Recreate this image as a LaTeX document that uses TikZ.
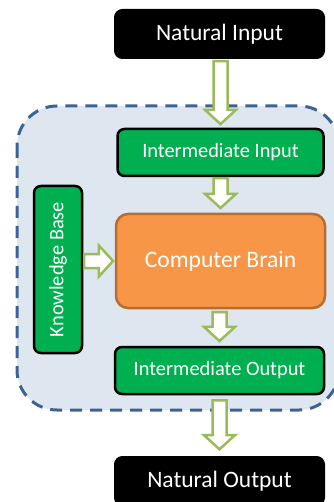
\documentclass[tikz,border=0pt]{standalone}
\usepackage{fontspec}
\setmainfont{Carlito}
\usetikzlibrary{shapes.arrows}

\definecolor{boxgreen}{HTML}{00B050}
\definecolor{brainfill}{HTML}{F79646}
\definecolor{brainline}{HTML}{B66D31}
\definecolor{arrowgreen}{HTML}{9BBB59}
\definecolor{zonefill}{HTML}{DEE6F0}
\definecolor{zoneline}{HTML}{3D6396}

\tikzset{
  natbox/.style={fill=black, draw=black, line width=1pt, rounded corners=8pt, text=white,
    minimum width=210pt, minimum height=49pt, font=\fontsize{23.5}{28}\selectfont},
  midbox/.style={fill=boxgreen, draw=black, line width=2.5pt, rounded corners=7pt, text=white,
    font=\fontsize{20.4}{24}\selectfont},
  brainbox/.style={fill=brainfill, draw=brainline, line width=2.5pt, rounded corners=12pt, text=white,
    minimum width=209pt, minimum height=94pt, font=\fontsize{23.6}{28}\selectfont},
  zone/.style={fill=zonefill, draw=zoneline, line width=3pt, rounded corners=40pt,
    dash pattern=on 12pt off 8pt},
  bigarrow/.style={single arrow, draw=arrowgreen, fill=white, line width=2.5pt,
    inner sep=0pt, inner ysep=5.75pt, single arrow head extend=8.5pt, single arrow tip angle=95}
}

\begin{document}
\begin{tikzpicture}[x=1pt, y=-1pt]
    \useasboundingbox (0,0) rectangle (333,502);
    % shaded zone
    \draw[zone] (17,106) rectangle (339,410);
    % boxes
    \node[natbox] (natin) at (219.5,34) {Natural Input};
    \node[midbox, minimum width=206pt, minimum height=47pt] (intin) at (220.5,152.5) {Intermediate Input};
    \node[brainbox] (brain) at (220.5,261) {Computer Brain};
    \node[midbox, minimum width=209pt, minimum height=47pt] (intout) at (219.5,370.5) {Intermediate Output};
    \node[natbox] (natout) at (219.5,481) {Natural Output};
    \node[midbox, rotate=90, minimum width=167pt, minimum height=48pt] (kb) at (58,269.5) {Knowledge Base};
    % block arrows
    \node[bigarrow, rotate=-90, minimum height=63pt, anchor=tip] (a1) at ([yshift=2pt]intin.north) {};
    \node[bigarrow, rotate=-90, minimum height=30pt, anchor=tip] (a2) at ([yshift=3pt]brain.north) {};
    \node[bigarrow, rotate=-90, minimum height=29pt, anchor=tip] (a3) at ([yshift=3pt]intout.north) {};
    \node[bigarrow, rotate=-90, minimum height=49pt, anchor=tip] (a4) at ([yshift=5pt]natout.north) {};
    \node[bigarrow, minimum height=29pt, anchor=tip] (a5) at (brain.west) {};
\end{tikzpicture}
\end{document}
